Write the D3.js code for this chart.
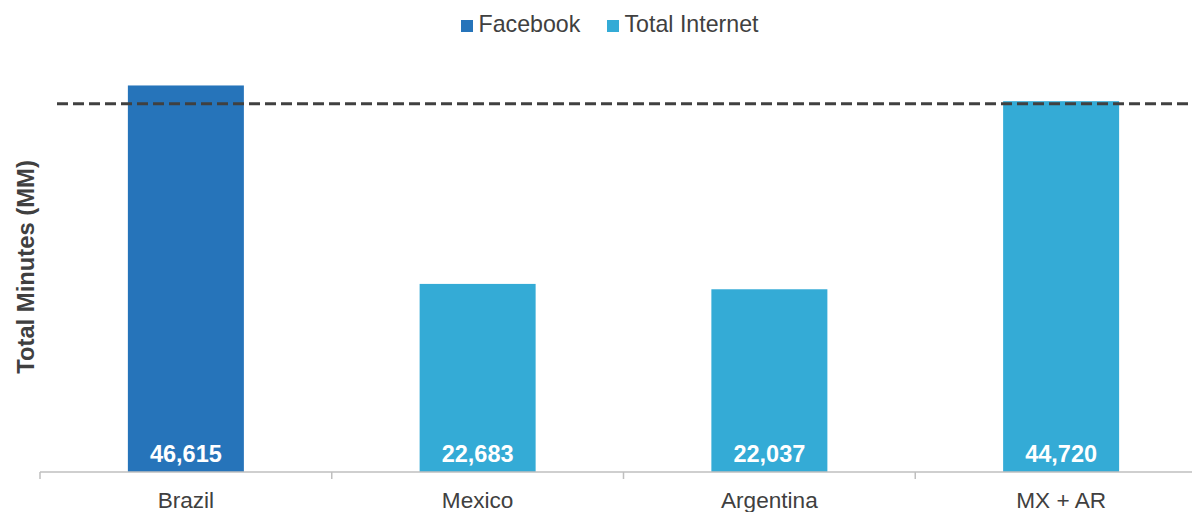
<!DOCTYPE html>
<html>
<head>
<meta charset="utf-8">
<script src="https://cdn.jsdelivr.net/npm/d3@7"></script>
<style>
  html, body { margin: 0; padding: 0; background: #ffffff; }
  svg { display: block; font-family: "Liberation Sans", Arial, sans-serif; }
</style>
</head>
<body>
<svg id="chart" width="1192" height="512"></svg>
<script>
// Total minutes (millions) by market
const categories = ["Brazil", "Mexico", "Argentina", "MX + AR"];
const seriesNames = ["Facebook", "Total Internet"];
const values = [46615, 22683, 22037, 44720];
const seriesOfBar = ["Facebook", "Total Internet", "Total Internet", "Total Internet"];
const referenceValue = 44400;

const colors = { "Facebook": "#2674ba", "Total Internet": "#34abd6" };

const svg = d3.select("#chart");
const baseY = 472;

const x = d3.scaleBand()
  .domain(categories)
  .range([40, 1207])
  .paddingInner(0)
  .paddingOuter(0);

const y = d3.scaleLinear()
  .domain([0, 50000])
  .range([baseY, 57.4]);

const barW = 116;

// bars
svg.append("g").selectAll("rect")
  .data(categories)
  .join("rect")
  .attr("x", (d) => x(d) + x.bandwidth() / 2 - barW / 2)
  .attr("width", barW)
  .attr("y", (d, i) => y(values[i]))
  .attr("height", (d, i) => baseY - y(values[i]))
  .attr("fill", (d, i) => colors[seriesOfBar[i]]);

// value labels inside the bar bottoms
svg.append("g").selectAll("text")
  .data(categories)
  .join("text")
  .attr("x", (d) => x(d) + x.bandwidth() / 2)
  .attr("y", 462)
  .attr("text-anchor", "middle")
  .attr("fill", "#ffffff")
  .attr("font-weight", "bold")
  .attr("font-size", 23.5)
  .text((d, i) => d3.format(",")(values[i]));

// category axis with ticks between bands
const axisG = svg.append("g");
axisG.append("line")
  .attr("x1", 40).attr("x2", 1192)
  .attr("y1", baseY).attr("y2", baseY)
  .attr("stroke", "#bfbfbf").attr("stroke-width", 1.5);
axisG.selectAll("line.tick")
  .data(categories)
  .join("line")
  .attr("class", "tick")
  .attr("x1", (d) => x(d)).attr("x2", (d) => x(d))
  .attr("y1", baseY).attr("y2", baseY + 7)
  .attr("stroke", "#bfbfbf").attr("stroke-width", 1.5);
axisG.selectAll("text")
  .data(categories)
  .join("text")
  .attr("x", (d) => x(d) + x.bandwidth() / 2)
  .attr("y", 508)
  .attr("text-anchor", "middle")
  .attr("fill", "#404040")
  .attr("font-size", 22.6)
  .text((d) => d);

// dashed reference line
svg.append("line")
  .attr("x1", 57).attr("x2", 1192)
  .attr("y1", y(referenceValue)).attr("y2", y(referenceValue))
  .attr("stroke", "#404040")
  .attr("stroke-width", 3)
  .attr("stroke-dasharray", "11,5");

// y axis title
svg.append("text")
  .attr("transform", "translate(33.5,267) rotate(-90)")
  .attr("text-anchor", "middle")
  .attr("fill", "#404040")
  .attr("font-weight", "bold")
  .attr("font-size", 23.8)
  .text("Total Minutes (MM)");

// legend
const legend = svg.append("g");
const legendItems = [
  { name: seriesNames[0], x: 461 },
  { name: seriesNames[1], x: 607 }
];
legendItems.forEach((it) => {
  legend.append("rect")
    .attr("x", it.x).attr("y", 20)
    .attr("width", 12).attr("height", 12)
    .attr("fill", colors[it.name]);
  legend.append("text")
    .attr("x", it.x + 17.5).attr("y", 31.7)
    .attr("fill", "#404040")
    .attr("font-size", 23.2)
    .text(it.name);
});
</script>
</body>
</html>
